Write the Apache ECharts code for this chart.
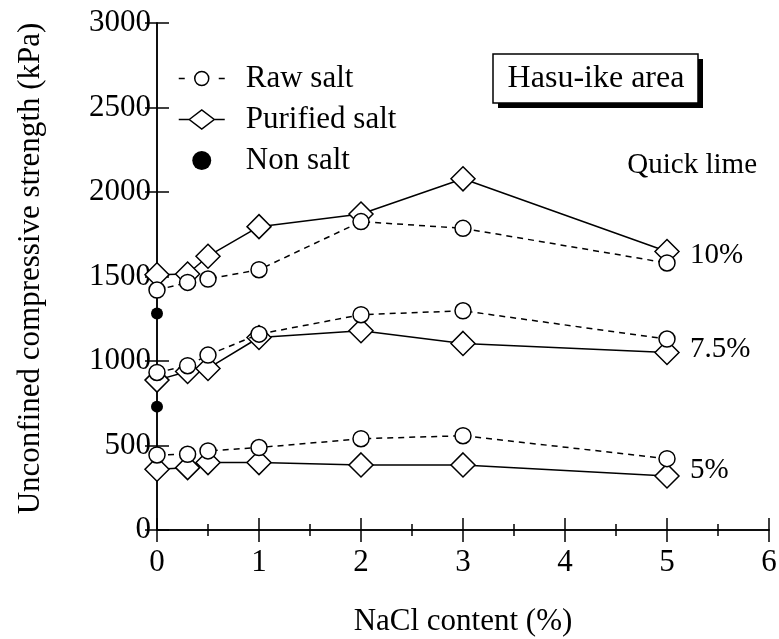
<!DOCTYPE html>
<html><head><meta charset="utf-8">
<script src="https://cdn.jsdelivr.net/npm/echarts@6/dist/echarts.min.js"></script>
<style>html,body{margin:0;padding:0;background:#fff}#c{width:779px;height:639px}</style>
</head><body><div id="c"></div>
<script>
// Data
const naclContent = [0, 0.3, 0.5, 1, 2, 3, 5];
const raw10  = [1420, 1465, 1485, 1540, 1825, 1785, 1580];
const pur10  = [1510, 1515, 1620, 1795, 1870, 2078, 1648];
const raw75  = [932, 972, 1035, 1159, 1274, 1297, 1130];
const pur75  = [887, 938, 956, 1139, 1179, 1104, 1050];
const raw5   = [444, 448, 468, 488, 540, 558, 422];
const pur5   = [360, 369, 399, 399, 385, 385, 320];
const nonSaltX = [0, 0];
const nonSaltY = [1281, 730];
const limeLabels = ['10%', '7.5%', '5%'];
const seriesNames = ['Raw salt', 'Purified salt', 'Non salt'];

const FONT = 'Liberation Serif';
const pairs = (xs, ys) => xs.map((x, i) => [x, ys[i]]);

const chart = echarts.init(document.getElementById('c'), null, {renderer: 'canvas'});

function purSeries(vals) {
  return {
    name: seriesNames[1], type: 'line', data: pairs(naclContent, vals),
    symbol: 'diamond', symbolSize: 24, z: 2,
    lineStyle: {color: '#000', width: 1.5, type: 'solid'},
    itemStyle: {color: '#fff', borderColor: '#000', borderWidth: 1.5},
    emphasis: {disabled: true}
  };
}
function rawSeries(vals) {
  return {
    name: seriesNames[0], type: 'line', data: pairs(naclContent, vals),
    symbol: 'circle', symbolSize: 16, z: 3,
    lineStyle: {color: '#000', width: 1.5, type: [6, 5]},
    itemStyle: {color: '#fff', borderColor: '#000', borderWidth: 1.5},
    emphasis: {disabled: true}
  };
}

const tickStyle = {color: '#000', width: 1.5};
const axisCommon = {
  axisLine: {lineStyle: {color: '#000', width: 1.5}},
  axisTick: {inside: true, length: 12, lineStyle: tickStyle},
  splitLine: {show: false}
};

const option = {
  backgroundColor: '#fff',
  animation: false,
  grid: {left: 157, right: 10, top: 23, bottom: 109, containLabel: false, outerBoundsMode: 'none'},
  legend: {
    orient: 'vertical', left: 173, top: 58,
    itemWidth: 46, itemHeight: 19, itemGap: 10,
    data: [
      {name: seriesNames[0], icon: 'path://M0,9.5 L6,9.5 M16,9.5 A7,7 0 1,1 30,9.5 A7,7 0 1,1 16,9.5 Z M40,9.5 L46,9.5',
       itemStyle: {color: '#fff', borderColor: '#000', borderWidth: 1.5}},
      {name: seriesNames[1], icon: 'path://M0,9.5 L10.5,9.5 M10.5,9.5 L23,0 L35.5,9.5 L23,19 Z M35.5,9.5 L46,9.5',
       itemStyle: {color: '#fff', borderColor: '#000', borderWidth: 1.5}},
      {name: seriesNames[2], icon: 'circle', itemStyle: {color: '#000', borderWidth: 0, opacity: 1}}
    ],
    textStyle: {fontFamily: FONT, fontSize: 31, color: '#000', padding: [0, 0, 0, 16]},
    selectedMode: false
  },
  xAxis: [
    Object.assign({}, axisCommon, {
      type: 'value', min: 0, max: 6, interval: 1, position: 'bottom',
      minorTick: {show: true, splitNumber: 2, length: 6, lineStyle: tickStyle},
      axisLabel: {fontFamily: FONT, fontSize: 31, color: '#000', margin: 17},
      name: 'NaCl content (%)', nameLocation: 'middle', nameGap: 76,
      nameTextStyle: {fontFamily: FONT, fontSize: 31, color: '#000'}
    }),
    Object.assign({}, axisCommon, {
      type: 'value', min: 0, max: 6, interval: 1, position: 'top',
      minorTick: {show: true, splitNumber: 2, length: 6, lineStyle: tickStyle},
      axisLabel: {show: false}
    })
  ],
  yAxis: [
    Object.assign({}, axisCommon, {
      type: 'value', min: 0, max: 3000, interval: 500, position: 'left',
      axisLabel: {fontFamily: FONT, fontSize: 31, color: '#000', margin: 6, formatter: v => String(v)},
      name: 'Unconfined compressive strength (kPa)', nameLocation: 'middle', nameGap: 111,
      nameRotate: 90,
      nameTextStyle: {fontFamily: FONT, fontSize: 31, color: '#000', padding: [0, 0, 0, 16]}
    }),
    Object.assign({}, axisCommon, {
      type: 'value', min: 0, max: 3000, interval: 500, position: 'right',
      axisLabel: {show: false}
    })
  ],
  series: [
    purSeries(pur10), purSeries(pur75), purSeries(pur5),
    rawSeries(raw10), rawSeries(raw75), rawSeries(raw5),
    {
      name: seriesNames[2], type: 'scatter', data: pairs(nonSaltX, nonSaltY),
      symbol: 'circle', symbolSize: 12, z: 4,
      itemStyle: {color: '#000', opacity: 1}, emphasis: {disabled: true}
    }
  ],
  graphic: [
    {type: 'rect', shape: {x: 498, y: 59, width: 205, height: 49}, style: {fill: '#000'}, z: 10},
    {type: 'rect', shape: {x: 493, y: 54, width: 205, height: 49}, style: {fill: '#fff', stroke: '#000', lineWidth: 1.5}, z: 11},
    {type: 'text', x: 596, y: 79, z: 12, style: {text: 'Hasu-ike area', fontFamily: FONT, fontSize: 32, fill: '#000', align: 'center', verticalAlign: 'middle'}},
    {type: 'text', x: 757, y: 165, z: 12, style: {text: 'Quick lime', fontFamily: FONT, fontSize: 29, fill: '#000', align: 'right', verticalAlign: 'middle'}},
    {type: 'text', x: 690, y: 255, z: 12, style: {text: limeLabels[0], fontFamily: FONT, fontSize: 29, fill: '#000', align: 'left', verticalAlign: 'middle'}},
    {type: 'text', x: 690, y: 349, z: 12, style: {text: limeLabels[1], fontFamily: FONT, fontSize: 29, fill: '#000', align: 'left', verticalAlign: 'middle'}},
    {type: 'text', x: 690, y: 470, z: 12, style: {text: limeLabels[2], fontFamily: FONT, fontSize: 29, fill: '#000', align: 'left', verticalAlign: 'middle'}}
  ]
};
chart.setOption(option);
</script>
</body></html>
